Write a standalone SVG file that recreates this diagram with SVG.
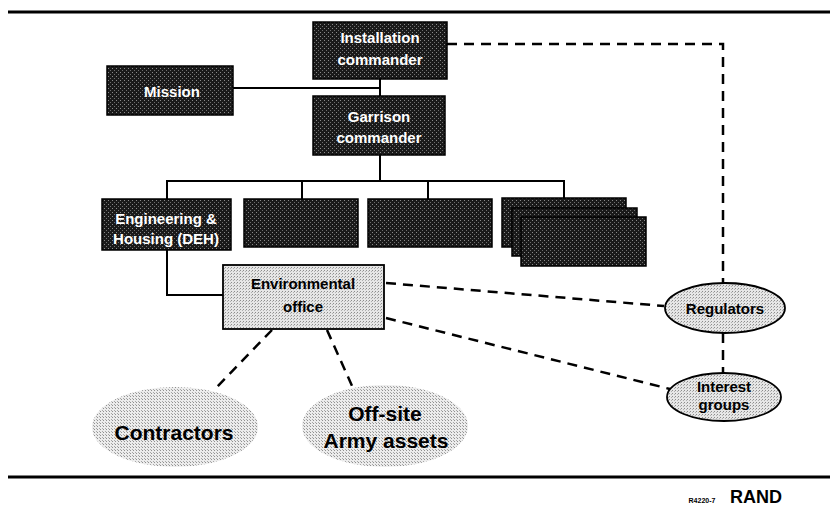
<svg xmlns="http://www.w3.org/2000/svg" width="830" height="508" viewBox="0 0 830 508">
  <defs>
    <!-- halftone textures -->
    <pattern id="darkTex" width="4" height="4" patternUnits="userSpaceOnUse">
      <rect width="4" height="4" fill="#1a1a1a"/>
      <rect x="0" y="0" width="1" height="1" fill="#8a8a8a"/>
      <rect x="2" y="2" width="1" height="1" fill="#6e6e6e"/>
    </pattern>
    <pattern id="lightTex" width="3" height="3" patternUnits="userSpaceOnUse">
      <rect width="3" height="3" fill="#e6e6e6"/>
      <rect x="0" y="0" width="1" height="1" fill="#8c8c8c"/>
      <rect x="2" y="1" width="1" height="1" fill="#b0b0b0"/>
    </pattern>
    <pattern id="cloudTex" width="3" height="3" patternUnits="userSpaceOnUse">
      <rect width="3" height="3" fill="#ececec"/>
      <rect x="1" y="0" width="1" height="1" fill="#909090"/>
      <rect x="0" y="2" width="1" height="1" fill="#a8a8a8"/>
    </pattern>
  </defs>
  <style>
    .dark { fill: url(#darkTex); stroke: #000; stroke-width: 1.5; }
    .light { fill: url(#lightTex); stroke: #000; stroke-width: 1.8; }
    .cloud { fill: url(#cloudTex); stroke: none; }
    .wt { font-family: "Liberation Sans", Arial, sans-serif; font-weight: bold; font-size: 15px; fill: #fff; text-anchor: middle; }
    .bt { font-family: "Liberation Sans", Arial, sans-serif; font-weight: bold; font-size: 15px; fill: #000; text-anchor: middle; }
    .big { font-family: "Liberation Sans", Arial, sans-serif; font-weight: bold; font-size: 21px; fill: #000; text-anchor: middle; }
    .solid { fill: none; stroke: #000; stroke-width: 2; }
    .dash { fill: none; stroke: #000; stroke-width: 2.5; stroke-dasharray: 10 7; }
    .rule { stroke: #000; stroke-width: 3; }
  </style>

  <rect width="830" height="508" fill="#fff"/>

  <!-- page rules -->
  <line class="rule" x1="8" y1="12" x2="830" y2="12"/>
  <line class="rule" x1="8" y1="477" x2="830" y2="477"/>

  <!-- connectors -->
  <g id="connectors">
    <polyline class="solid" points="233,88 380,88"/>
    <line class="solid" x1="380" y1="79" x2="380" y2="96"/>
    <line class="solid" x1="380" y1="155" x2="380" y2="181"/>
    <polyline class="solid" points="167,199 167,181 564,181 564,198"/>
    <line class="solid" x1="302" y1="181" x2="302" y2="199"/>
    <line class="solid" x1="428" y1="181" x2="428" y2="199"/>
    <polyline class="solid" points="167,250 167,295 223,295"/>
    <polyline class="dash" points="447,44 723,44 723,283"/>
    <line class="dash" x1="723" y1="333" x2="723" y2="373"/>
    <line class="dash" x1="386" y1="283" x2="664" y2="306"/>
    <line class="dash" x1="386" y1="318" x2="670" y2="389"/>
    <line class="dash" x1="272" y1="330" x2="216" y2="388"/>
    <line class="dash" x1="327" y1="330" x2="353" y2="388"/>
  </g>

  <g id="installation-commander">
    <rect class="dark" x="313" y="22" width="134" height="57"/>
    <text class="wt" x="380" y="43">Installation</text>
    <text class="wt" x="380" y="65">commander</text>
  </g>

  <g id="mission">
    <rect class="dark" x="107" y="66" width="126" height="49"/>
    <text class="wt" x="172" y="97">Mission</text>
  </g>

  <g id="garrison-commander">
    <rect class="dark" x="313" y="96" width="132" height="59"/>
    <text class="wt" x="379" y="122">Garrison</text>
    <text class="wt" x="379" y="143">commander</text>
  </g>

  <g id="engineering-housing">
    <rect class="dark" x="102" y="199" width="129" height="51"/>
    <text class="wt" x="166" y="224">Engineering &amp;</text>
    <text class="wt" x="166" y="244">Housing (DEH)</text>
  </g>

  <g id="unit-2">
    <rect class="dark" x="244" y="199" width="114" height="48"/>
  </g>

  <g id="unit-3">
    <rect class="dark" x="368" y="199" width="124" height="48"/>
  </g>

  <g id="unit-stack">
    <rect class="dark" x="502" y="198" width="124" height="49"/>
    <rect class="dark" x="512" y="208" width="125" height="48"/>
    <rect class="dark" x="521" y="217" width="125" height="49"/>
  </g>

  <g id="environmental-office">
    <rect class="light" x="223" y="265" width="161" height="64"/>
    <text class="bt" x="303" y="289" font-size="14">Environmental</text>
    <text class="bt" x="303" y="312" font-size="14">office</text>
  </g>

  <g id="regulators">
    <ellipse class="light" cx="725" cy="308" rx="60" ry="25"/>
    <text class="bt" x="725" y="314">Regulators</text>
  </g>

  <g id="interest-groups">
    <ellipse class="light" cx="724" cy="397" rx="57" ry="24"/>
    <text class="bt" x="724" y="392">Interest</text>
    <text class="bt" x="724" y="410">groups</text>
  </g>

  <g id="contractors">
    <ellipse class="cloud" cx="175" cy="427" rx="83" ry="40"/>
    <text class="big" x="174" y="440">Contractors</text>
  </g>

  <g id="offsite-army-assets">
    <ellipse class="cloud" cx="385" cy="426" rx="83" ry="41"/>
    <text class="big" x="385" y="421">Off-site</text>
    <text class="big" x="386" y="448">Army assets</text>
  </g>

  <!-- figure code and imprint -->
  <text x="702" y="503" font-family="Liberation Sans, Arial, sans-serif" font-weight="bold" font-size="7" text-anchor="middle">R4220-7</text>
  <text x="756" y="503" font-family="Liberation Sans, Arial, sans-serif" font-weight="bold" font-size="18" text-anchor="middle">RAND</text>
</svg>
